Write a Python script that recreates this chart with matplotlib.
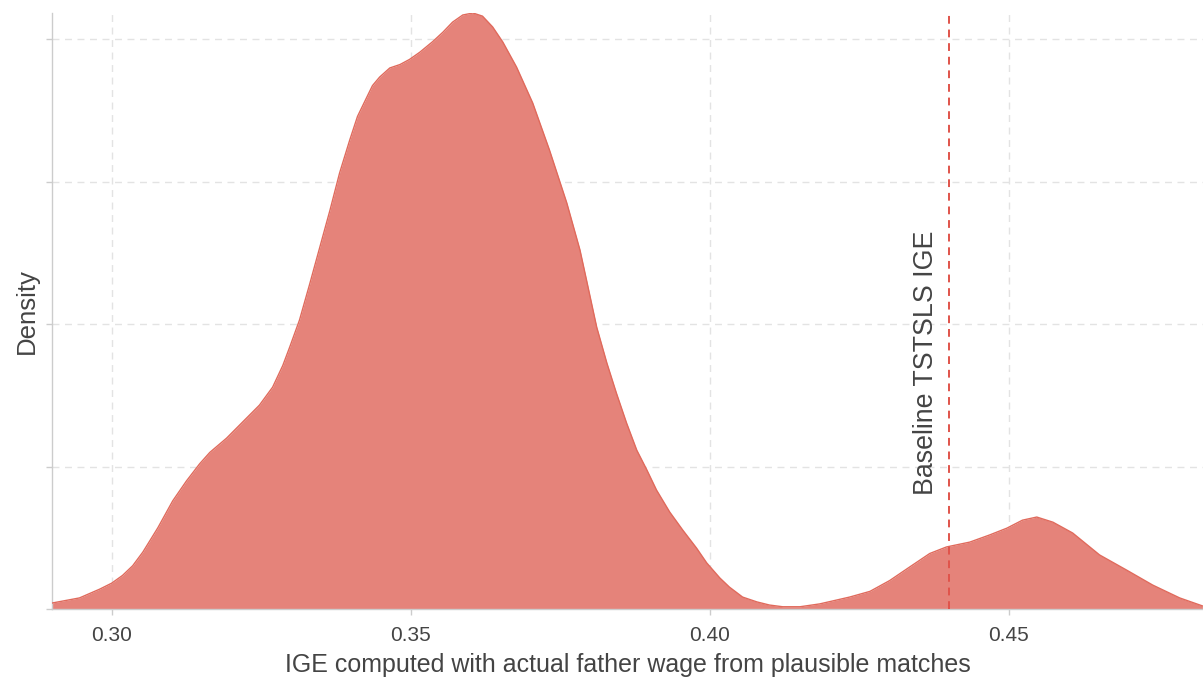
import matplotlib

matplotlib.use("Agg")
import matplotlib.pyplot as plt

plt.rc("font", family="Liberation Sans")

# density curve (IGE value, density)
ige = [0.2900, 0.2946, 0.2980, 0.3000, 0.3018, 0.3035, 0.3052, 0.3077,
       0.3102, 0.3125, 0.3147, 0.3164, 0.3192, 0.3219, 0.3247, 0.3269,
       0.3286, 0.3298, 0.3314, 0.3331, 0.3348, 0.3365, 0.3381, 0.3398,
       0.3411, 0.3426, 0.3436, 0.3448, 0.3465, 0.3482, 0.3498, 0.3515,
       0.3537, 0.3554, 0.3570, 0.3587, 0.3604, 0.3620, 0.3637, 0.3654,
       0.3677, 0.3704, 0.3732, 0.3761, 0.3783, 0.3794, 0.3811, 0.3828,
       0.3844, 0.3861, 0.3878, 0.3895, 0.3911, 0.3933, 0.3955, 0.3978,
       0.3995, 0.4017, 0.4033, 0.4055, 0.4079, 0.4100, 0.4122, 0.4151,
       0.4184, 0.4234, 0.4268, 0.4301, 0.4334, 0.4368, 0.4396, 0.4435,
       0.4468, 0.4497, 0.4523, 0.4547, 0.4574, 0.4607, 0.4652, 0.4697,
       0.4741, 0.4786, 0.4824]
density = [0.21, 0.39, 0.70, 0.91, 1.18, 1.52, 2.00, 2.85,
           3.80, 4.50, 5.10, 5.50, 6.00, 6.57, 7.16, 7.79,
           8.55, 9.22, 10.15, 11.41, 12.71, 14.01, 15.31, 16.47,
           17.30, 17.95, 18.38, 18.68, 19.00, 19.12, 19.30, 19.55,
           19.93, 20.26, 20.61, 20.86, 20.93, 20.82, 20.44, 19.91,
           19.03, 17.77, 16.12, 14.26, 12.61, 11.55, 9.90, 8.64,
           7.58, 6.53, 5.58, 4.88, 4.18, 3.41, 2.77, 2.14,
           1.62, 1.09, 0.77, 0.42, 0.25, 0.14, 0.08, 0.08,
           0.18, 0.42, 0.62, 1.00, 1.47, 1.95, 2.18, 2.35,
           2.60, 2.84, 3.12, 3.23, 3.05, 2.67, 1.90, 1.37,
           0.84, 0.39, 0.11]

baseline_ige = 0.44
x_ticks = [0.30, 0.35, 0.40, 0.45]
y_ticks = [0, 5, 10, 15, 20]

txt = "#444444"
grid_col = "#E3E3E3"

fig = plt.figure(figsize=(12.03, 6.77), dpi=100)
ax = fig.add_axes([0.0432, 0.1004, 0.9568, 0.8804])

ax.fill_between(ige, density, 0, color="#E5837A", linewidth=0, zorder=2)
ax.plot(ige, density, color="#E06A5C", linewidth=1.0, zorder=3,
        solid_joinstyle="round")

ax.axvline(baseline_ige, color="#E0534A", linestyle=(0, (4, 3)),
           linewidth=1.4, zorder=4)
ax.text(baseline_ige - 0.0039, 4.0, "Baseline TSTSLS IGE", rotation=90,
        ha="center", va="bottom", fontsize=19.3, color=txt, zorder=5)

ax.set_xlim(0.29, 0.4825)
ax.set_ylim(0, 20.93)
ax.set_xticks(x_ticks)
ax.set_xticklabels([f"{t:.2f}" for t in x_ticks])
ax.set_yticks(y_ticks)
ax.set_yticklabels([])

ax.grid(True, color=grid_col, linestyle=(0, (5, 4)), linewidth=1.0)
ax.set_axisbelow(True)

for s in ["top", "right"]:
    ax.spines[s].set_visible(False)
for s in ["left", "bottom"]:
    ax.spines[s].set_color("#CCCCCC")
    ax.spines[s].set_linewidth(1.0)

ax.tick_params(axis="both", colors="#CCCCCC", length=4, width=1.0,
               labelcolor=txt, labelsize=15)
ax.tick_params(axis="x", pad=8)

ax.set_xlabel("IGE computed with actual father wage from plausible matches",
              fontsize=18, color=txt, labelpad=6)
ax.set_ylabel("Density", fontsize=18.5, color=txt, labelpad=2)

plt.savefig("out.png", dpi=100)
